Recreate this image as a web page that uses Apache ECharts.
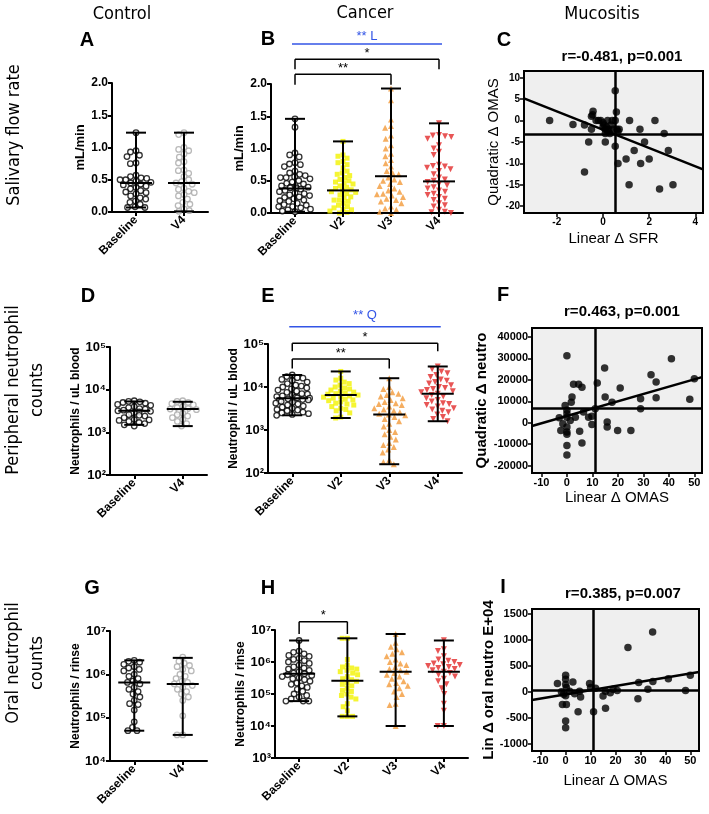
<!DOCTYPE html>
<html><head><meta charset="utf-8">
<script src="https://cdn.jsdelivr.net/npm/echarts@6/dist/echarts.min.js"></script>
<style>html,body{margin:0;padding:0;background:#fff}#c{width:709px;height:814px}</style>
</head><body><div id="c"></div>
<script>
// ---------------- DATA ----------------
const catsCtrl = ['Baseline', 'V4'];
const catsCancer = ['Baseline', 'V2', 'V3', 'V4'];

// A: salivary flow rate, control (mL/min)
const aBaseline = [1.23,0.95,0.93,0.88,0.86,0.76,0.75,0.57,0.55,0.53,0.52,0.5,0.5,0.48,0.46,0.45,0.43,0.42,0.4,0.38,0.36,0.33,0.31,0.3,0.28,0.25,0.22,0.2,0.17,0.15,0.12,0.08,0.07,0.07];
const aV4 = [1.23,1.2,1.0,0.97,0.95,0.9,0.85,0.78,0.76,0.65,0.64,0.6,0.55,0.5,0.47,0.45,0.43,0.37,0.35,0.32,0.3,0.27,0.25,0.2,0.15,0.12,0.1,0.05,0.02,0.01];
const aMedian = [0.45, 0.45], aLow = [0.07, 0.01], aHigh = [1.23, 1.23];

// B: salivary flow rate, cancer
const bBaseline = [1.46,1.33,0.93,0.9,0.87,0.78,0.76,0.75,0.72,0.65,0.62,0.6,0.58,0.56,0.55,0.55,0.53,0.5,0.48,0.46,0.45,0.42,0.41,0.4,0.4,0.39,0.38,0.37,0.35,0.33,0.31,0.3,0.28,0.27,0.25,0.24,0.22,0.2,0.19,0.18,0.15,0.13,0.12,0.1,0.1,0.08,0.06,0.05,0.03,0.02];
const bV2 = [1.11,0.9,0.88,0.85,0.8,0.78,0.75,0.7,0.65,0.62,0.6,0.58,0.55,0.52,0.5,0.48,0.47,0.45,0.42,0.4,0.38,0.36,0.35,0.33,0.32,0.3,0.28,0.25,0.23,0.2,0.2,0.18,0.15,0.12,0.1,0.08,0.06,0.05,0.03,0.01,0.0];
const bV3 = [1.93,1.75,1.45,1.35,1.32,1.2,1.15,1.05,1.0,0.92,0.88,0.82,0.77,0.72,0.65,0.62,0.6,0.55,0.52,0.5,0.48,0.45,0.42,0.38,0.35,0.33,0.3,0.29,0.27,0.25,0.22,0.2,0.18,0.15,0.1,0.07,0.05,0.02,0.0];
const bV4 = [1.39,1.21,1.2,1.19,1.18,1.15,1.05,1.0,0.95,0.9,0.75,0.73,0.72,0.7,0.68,0.65,0.6,0.55,0.52,0.5,0.48,0.45,0.43,0.4,0.38,0.35,0.33,0.3,0.28,0.25,0.22,0.2,0.15,0.12,0.1,0.05,0.02,0.01,0.0];
const bMedian = [0.38, 0.35, 0.57, 0.49], bLow = [0.02, 0.0, 0.0, 0.0], bHigh = [1.46, 1.11, 1.93, 1.39];

// C: Linear dSFR vs Quadratic dOMAS
const cPoints = [[-2.31,0],[-1.3,-0.9],[-0.8,-1],[-0.8,-12],[-0.62,-5],[-0.5,-2],[-0.43,2.2],[-0.45,1.4],[-0.5,1],[-0.3,0],[-0.1,0],[0,-0.5],[0.05,-1],[0.1,-2],[0.15,-1.5],[0.2,0],[0.25,-2],[0.3,-3],[0.35,-1],[0.4,0],[0.45,-2],[0.6,-2],[0.65,-2.5],[0.2,-2.5],[0,-1.5],[-0.2,0],[0.1,-3],[0.1,-5],[0.53,7],[0.58,2],[0.53,0],[0.53,-6],[0.7,-2],[0.65,-10],[1.0,-9],[1.15,0],[1.13,-15],[1.35,-7],[1.6,-2],[1.63,-10],[1.8,-5],[2.0,-9],[2.25,0],[2.65,-3],[2.45,-16],[2.83,-7],[3.03,-15]];
const cFit = [[-3.42,5.2],[4.33,-11.4]];
const cRef = {x: 0.54, y: -3.2};
const cXTicks = [-2,0,2,4], cYTicks = [-20,-15,-10,-5,0,5,10];

// D: peripheral neutrophils, control
const dBaseline = [5500,5300,5200,5000,4800,4500,4300,4000,3800,3600,3500,3300,3200,3100,3000,2900,2800,2600,2500,2400,2200,2000,1950,1900,1800,1700,1600,1500,1400];
const dV4 = [5500,5300,5000,4700,4400,4000,3800,3600,3500,3400,3300,3100,3000,2800,2600,2400,2200,2000,1800,1600,1400];
const dMedian = [3200, 3500], dLow = [1500, 1400], dHigh = [5300, 5200];

// E: peripheral neutrophils, cancer
const eBaseline = [19000,17500,16500,16000,15000,14000,13000,12000,11000,10500,10000,9500,9000,8500,8000,7500,7000,6800,6500,6200,6000,5800,5600,5500,5300,5100,5000,4800,4600,4400,4200,4000,3800,3600,3400,3200,3000,2900,2800,2600,2500,2400,2300,2200];
const eV2 = [23000,16000,14500,13000,12000,11000,10000,9500,9000,8500,8000,7600,7200,7000,6800,6500,6200,6000,5800,5500,5200,5000,4800,4500,4200,4000,3800,3500,3200,3000,2800,2500,2000,1900];
const eV3 = [16000,10000,9000,7500,7000,6500,6000,5500,5000,4500,4200,4000,3800,3500,3200,3000,2800,2600,2400,2300,2200,2000,1800,1600,1400,1200,1000,900,800,700,600,500,450,400,350,300,200,180,160];
const eV4 = [30000,26000,23000,21000,19000,17000,15000,14000,13000,12000,11000,10000,9500,9000,8500,8000,7500,7000,6500,6000,5500,5000,4600,4200,4000,3800,3500,3200,3000,2800,2600,2300,2000,1800,1600];
const eMedian = [5500, 6500, 2300, 7000], eLow = [2200, 1900, 160, 1600], eHigh = [19000, 23000, 16000, 30000];

// F: Linear dOMAS vs Quadratic dneutro
const fPoints = [[0,31300],[-3,2300],[-2.4,-3600],[-1.6,-500],[-0.7,8000],[0,5800],[0,4200],[0,2600],[0,-2000],[0,-4300],[0,-5400],[0,-10600],[0,-15000],[1.3,1000],[2,12000],[1.7,9600],[2.6,17900],[3.3,2600],[4.6,17900],[5.9,16600],[5,-4000],[5.9,-9500],[6.5,5000],[8.5,2600],[9.8,3000],[9.8,-800],[11.1,6500],[11.9,18500],[14.8,25500],[15,12000],[15.8,300],[15.8,-2000],[17.7,9600],[19.9,-3600],[20.9,16200],[25.1,-3600],[28.9,11200],[28.9,6500],[33,22400],[35,19000],[35,11700],[41,29900],[48.2,10900],[50,20500]];
const fFit = [[-13.7,-1500],[53,21300]];
const fRef = {x: 11.1, y: 6900};
const fXTicks = [-10,0,10,20,30,40,50], fYTicks = [-20000,-10000,0,10000,20000,30000,40000];

// G: oral neutrophils, control
const gBaseline = [2.1e6,2.0e6,1.9e6,1.7e6,1.5e6,1.4e6,1.3e6,1.2e6,1.0e6,9e5,8e5,7e5,6.5e5,6e5,5e5,4.5e5,4e5,3.5e5,3e5,2.5e5,2.1e5,2e5,1.5e5,8e4,6e4,5e4,5e4];
const gV4 = [2.5e6,2.0e6,1.8e6,1.6e6,1.5e6,1.3e6,1.2e6,1.0e6,9e5,8e5,7e5,6.5e5,6e5,5.5e5,5e5,4.5e5,4e5,3.5e5,3e5,2.5e5,1.1e5,4e4,4e4];
const gMedian = [6.5e5, 6e5], gLow = [5e4, 4e4], gHigh = [2.1e6, 2.4e6];

// H: oral neutrophils, cancer
const hBaseline = [4.7e6,2.2e6,2.0e6,1.8e6,1.6e6,1.5e6,1.3e6,1.2e6,1.1e6,1.0e6,9e5,8e5,7e5,6.5e5,6e5,5.5e5,5e5,4.5e5,4.3e5,4e5,3.8e5,3.5e5,3.2e5,3e5,2.8e5,2.5e5,2.2e5,2e5,1.8e5,1.6e5,1.4e5,1.2e5,1e5,9e4,8e4,7e4,6e4,6e4,6e4];
const hV2 = [5.5e6,5.5e6,1.2e6,8e5,7e5,6.5e5,6e5,5.5e5,5e5,4.5e5,4e5,3.5e5,3e5,2.8e5,2.5e5,2.2e5,2e5,1.8e5,1.5e5,1.3e5,1.2e5,1e5,9e4,8e4,7e4,5e4,4e4,3e4,2e4,2e4,2e4];
const hV3 = [7.5e6,4e6,3e6,2.5e6,2e6,1.8e6,1.5e6,1.2e6,1e6,9e5,8e5,7e5,6e5,5.5e5,5e5,4.5e5,4e5,3.5e5,3e5,2.5e5,2.2e5,2e5,1.8e5,1.5e5,1.2e5,1e5,8e4,5e4,4.5e4,1e4];
const hV4 = [4.8e6,2.5e6,2.2e6,1.5e6,1.2e6,1.1e6,1e6,9e5,8.5e5,8e5,7.5e5,7e5,6.5e5,6e5,5.5e5,5e5,4.5e5,4e5,3.5e5,3e5,2.5e5,2e5,1.5e5,1e5,5e4,3e4,1e4,1e4];
const hMedian = [4.3e5, 2.6e5, 5e5, 5e5], hLow = [6e4, 2e4, 1e4, 1e4], hHigh = [4.7e6, 5.5e6, 7.5e6, 4.7e6];

// I: Linear dOMAS vs Lin d oral neutro
const iPoints = [[-3.3,160],[-1.7,0],[-0.8,-50],[-1.3,-245],[0.3,-245],[0,315],[0,240],[0,140],[0.3,80],[0,-80],[0,-565],[0,-695],[1.6,10],[2.9,185],[3.6,-40],[5.6,10],[6,-100],[5,-385],[9.6,160],[10,80],[11.2,-385],[12,65],[15,-85],[16,10],[16,-320],[17.9,-20],[19,45],[20.7,25],[25,850],[29.3,175],[29,-135],[33,45],[34.9,1150],[35,195],[41.2,250],[48.1,25],[50,315]];
const iFit = [[-13.5,-160],[53.5,380]];
const iRef = {x: 11.2, y: 25};
const iXTicks = [-10,0,10,20,30,40,50], iYTicks = [-1000,-500,0,500,1000,1500];

// ---------------- STYLE / LAYOUT ----------------
const FONT = '"Liberation Sans", Arial, sans-serif';
const NARROW = '"Liberation Sans Narrow", "DejaVu Sans Condensed", Arial, sans-serif';
const grids = [
  {left:112, top:83,  width:96,  height:129},  // A
  {left:271, top:84,  width:192, height:129},  // B
  {left:524, top:71,  width:179, height:142},  // C
  {left:110, top:347, width:97,  height:128},  // D
  {left:268, top:344, width:194, height:129},  // E
  {left:532, top:328, width:170, height:145},  // F
  {left:110, top:631, width:97,  height:130},  // G
  {left:275, top:630, width:193, height:128},  // H
  {left:532, top:609, width:167, height:142}   // I
];
const SUP = {2:'²',3:'³',4:'⁴',5:'⁵',6:'⁶',7:'⁷'};
const xAxes = [], yAxes = [], series = [];
const axLine = {show:true, onZero:false, lineStyle:{color:'#000', width:2}};
const axTick = {show:true, length:4, lineStyle:{color:'#000', width:2}};

function catX(gi, cats, jit) {
  xAxes[gi] = {type:'category', gridIndex:gi, data:cats, boundaryGap:true,
    axisLine:axLine, axisTick:Object.assign({alignWithLabel:true}, axTick),
    axisLabel:{rotate:45, color:'#000', fontWeight:'bold', fontSize:12, fontFamily:FONT, margin:6},
    splitLine:{show:false}, jitter:jit, jitterOverlap:false, jitterMargin:0.2};
}
function linY(gi, min, max, interval, name, gap) {
  yAxes[gi] = {type:'value', gridIndex:gi, min, max, interval, axisLine:axLine, axisTick:axTick,
    splitLine:{show:false}, name, nameLocation:'middle', nameGap:gap,
    nameTextStyle:{color:'#000', fontWeight:'bold', fontSize:13, fontFamily:FONT},
    axisLabel:{color:'#000', fontWeight:'bold', fontSize:12, fontFamily:FONT, margin:4, formatter:v=>v.toFixed(1)}};
}
function logY(gi, min, max, name, gap) {
  yAxes[gi] = {type:'log', logBase:10, gridIndex:gi, min, max, axisLine:axLine, axisTick:axTick,
    minorTick:{show:false}, splitLine:{show:false}, name, nameLocation:'middle', nameGap:gap,
    nameTextStyle:{color:'#000', fontWeight:'bold', fontSize:12, fontFamily:FONT},
    axisLabel:{color:'#000', fontWeight:'bold', fontSize:13, fontFamily:FONT, margin:4,
      formatter:v=>'10' + SUP[Math.round(Math.log10(v))]}};
}
function valAxis(gi, dim, min, max, ticks, name, gap, nameBold, fs) {
  const ax = {type:'value', gridIndex:gi, min, max,
    axisLine:{show:false, onZero:false}, axisTick:{show:true, length:4, lineStyle:{color:'#000', width:1.5}, customValues:ticks},
    splitLine:{show:false}, name, nameLocation:'middle', nameGap:gap,
    nameTextStyle:{color:'#000', fontWeight:nameBold ? 'bold' : 'normal', fontSize:15, fontFamily:FONT},
    axisLabel:{color:'#000', fontWeight:'bold', fontSize:fs, fontFamily:FONT, margin:4, customValues:ticks,
      formatter:v=>String(v)}};
  if (dim === 'x') xAxes[gi] = ax; else yAxes[gi] = ax;
}

const ST = {
  openBlack:{symbol:'circle', size:5.5, item:{color:'#fff', borderColor:'#000', borderWidth:1.3}},
  openGrey:{symbol:'circle', size:5.5, item:{color:'#fff', borderColor:'#a8a8a8', borderWidth:1.3}},
  yellow:{symbol:'rect', size:5, item:{color:'#f3f300'}},
  orange:{symbol:'triangle', size:6, item:{color:'#f29a3a'}},
  red:{symbol:'triangle', size:6, rotate:180, item:{color:'#e22a2a'}}
};
function dots(ai, cat, values, st) {
  series.push({type:'scatter', xAxisIndex:ai, yAxisIndex:ai, silent:true, z:2,
    symbol:st.symbol, symbolSize:st.size, symbolRotate:st.rotate || 0, itemStyle:st.item,
    data:values.map(v => [cat, v])});
}
function errBars(ai, med, lo, hi) {
  series.push({type:'custom', xAxisIndex:ai, yAxisIndex:ai, silent:true, z:5, clip:false,
    data:med.map((m, i) => [i, lo[i], hi[i], m]),
    renderItem(params, api) {
      const x = api.value(0);
      const pl = api.coord([x, api.value(1)]), ph = api.coord([x, api.value(2)]), pm = api.coord([x, api.value(3)]);
      const s = {stroke:'#000', lineWidth:2};
      const cap = 10, mw = 16;
      return {type:'group', children:[
        {type:'line', shape:{x1:pl[0], y1:pl[1], x2:ph[0], y2:ph[1]}, style:s},
        {type:'line', shape:{x1:pl[0]-cap, y1:pl[1], x2:pl[0]+cap, y2:pl[1]}, style:s},
        {type:'line', shape:{x1:ph[0]-cap, y1:ph[1], x2:ph[0]+cap, y2:ph[1]}, style:s},
        {type:'line', shape:{x1:pm[0]-mw, y1:pm[1], x2:pm[0]+mw, y2:pm[1]}, style:s}
      ]};
    }});
}
// brackets: from/to category, line offset above grid top (px), drop length, label
function brackets(ai, yRef, list) {
  series.push({type:'custom', xAxisIndex:ai, yAxisIndex:ai, silent:true, z:10, clip:false,
    data:list.map(b => [b.from, b.to]),
    renderItem(params, api) {
      const b = list[params.dataIndex];
      const top = params.coordSys.y;
      const x1 = api.coord([api.value(0), yRef])[0] - (b.ext || 0);
      const x2 = api.coord([api.value(1), yRef])[0] + (b.ext || 0);
      const y = top - b.off;
      const s = {stroke:b.color || '#000', lineWidth:1.5};
      const ch = [{type:'line', shape:{x1, y1:y, x2, y2:y}, style:s}];
      if (b.drop) {
        ch.push({type:'line', shape:{x1, y1:y, x2:x1, y2:y+b.drop}, style:s});
        ch.push({type:'line', shape:{x1:x2, y1:y, x2, y2:y+b.drop}, style:s});
      }
      ch.push({type:'text', x:(x1+x2)/2, y:y - b.tdy, style:{text:b.text, fill:b.color || '#000',
        font:'13px ' + FONT, textAlign:'center', textVerticalAlign:'middle'}});
      return {type:'group', children:ch};
    }});
}
function scatterPanel(ai, pts, fit, ref) {
  series.push({type:'scatter', xAxisIndex:ai, yAxisIndex:ai, silent:true, z:3, symbolSize:7.5,
    itemStyle:{color:'#000'}, data:pts,
    markLine:{silent:true, symbol:'none', animation:false, label:{show:false},
      lineStyle:{color:'#000', width:2.5, type:'solid'}, data:[{xAxis:ref.x}, {yAxis:ref.y}]}});
  series.push({type:'line', xAxisIndex:ai, yAxisIndex:ai, silent:true, z:4, symbol:'none',
    lineStyle:{color:'#000', width:2.5}, data:fit});
}

// A
catX(0, catsCtrl, 34); linY(0, 0, 2, 0.5, 'mL/min', 24);
dots(0, 0, aBaseline, ST.openBlack); dots(0, 1, aV4, ST.openGrey); errBars(0, aMedian, aLow, aHigh);
// B
catX(1, catsCancer, 36); linY(1, 0, 2, 0.5, 'mL/min', 22);
dots(1, 0, bBaseline, ST.openBlack); dots(1, 1, bV2, ST.yellow); dots(1, 2, bV3, ST.orange); dots(1, 3, bV4, ST.red);
errBars(1, bMedian, bLow, bHigh);
brackets(1, 0, [
  {from:0, to:3, off:40, drop:0, ext:3, text:'** L', tdy:8, color:'#3355e6'},
  {from:0, to:3, off:24.7, drop:10, text:'*', tdy:6},
  {from:0, to:2, off:9.7, drop:10.5, text:'**', tdy:6}
]);
// C
valAxis(2, 'x', -3.42, 4.33, cXTicks, 'Linear Δ SFR', 18, false, 10);
valAxis(2, 'y', -21.6, 11.6, cYTicks, 'Quadratic Δ OMAS', 20, false, 10);
scatterPanel(2, cPoints, cFit, cRef);
// D
catX(3, catsCtrl, 34); logY(3, 100, 100000, 'Neutrophils / uL blood', 27);
dots(3, 0, dBaseline, ST.openBlack); dots(3, 1, dV4, ST.openGrey); errBars(3, dMedian, dLow, dHigh);
// E
catX(4, catsCancer, 36); logY(4, 100, 100000, 'Neutrophil / uL blood', 20);
dots(4, 0, eBaseline, ST.openBlack); dots(4, 1, eV2, ST.yellow); dots(4, 2, eV3, ST.orange); dots(4, 3, eV4, ST.red);
errBars(4, eMedian, eLow, eHigh);
brackets(4, 100, [
  {from:0, to:3, off:17.3, drop:0, ext:3, text:'** Q', tdy:11, color:'#3355e6'},
  {from:0, to:3, off:0.7, drop:8, text:'*', tdy:6},
  {from:0, to:2, off:-15, drop:9.5, text:'**', tdy:6}
]);
// F
valAxis(5, 'x', -13.7, 53, fXTicks, 'Linear Δ OMAS', 17, false, 11);
valAxis(5, 'y', -23450, 44200, fYTicks, 'Quadratic Δ neutro', 36, true, 11);
scatterPanel(5, fPoints, fFit, fRef);
// G
catX(6, catsCtrl, 34); logY(6, 10000, 10000000, 'Neutrophils / rinse', 26);
dots(6, 0, gBaseline, ST.openBlack); dots(6, 1, gV4, ST.openGrey); errBars(6, gMedian, gLow, gHigh);
// H
catX(7, catsCancer, 36); logY(7, 1000, 10000000, 'Neutrophils / rinse', 21);
dots(7, 0, hBaseline, ST.openBlack); dots(7, 1, hV2, ST.yellow); dots(7, 2, hV3, ST.orange); dots(7, 3, hV4, ST.red);
errBars(7, hMedian, hLow, hHigh);
brackets(7, 1000, [{from:0, to:1, off:8.3, drop:12.3, text:'*', tdy:6}]);
// I
valAxis(8, 'x', -13.5, 53.5, iXTicks, 'Linear Δ OMAS', 22, false, 11);
valAxis(8, 'y', -1140, 1590, iYTicks, 'Lin Δ oral neutro E+04', 29, true, 11);
scatterPanel(8, iPoints, iFit, iRef);

const gridOpts = grids.map((g, i) => Object.assign({containLabel:false}, g,
  [2, 5, 8].includes(i) ? {show:true, backgroundColor:'#efefef', borderColor:'#000', borderWidth:2} : {}));

function txt(x, y, text, font, rot) {
  return {type:'text', x, y, rotation:rot || 0, silent:true,
    style:{text, font, fill:'#000', textAlign:'center', textVerticalAlign:'middle', lineHeight:24}};
}
const graphic = [
  txt(122, 14, 'Control', '18px ' + NARROW),
  txt(365, 13, 'Cancer', '18px ' + NARROW),
  txt(602, 14, 'Mucositis', '18px ' + NARROW),
  txt(14, 135, 'Salivary flow rate', '18px ' + NARROW, Math.PI/2),
  txt(25, 390, 'Peripheral neutrophil\ncounts', '18px ' + NARROW, Math.PI/2),
  txt(25, 663, 'Oral neutrophil\ncounts', '18px ' + NARROW, Math.PI/2),
  txt(87, 40, 'A', 'bold 20px ' + FONT), txt(268, 39, 'B', 'bold 20px ' + FONT), txt(504, 40, 'C', 'bold 20px ' + FONT),
  txt(88, 296, 'D', 'bold 20px ' + FONT), txt(268, 296, 'E', 'bold 20px ' + FONT), txt(503, 295, 'F', 'bold 20px ' + FONT),
  txt(92, 588, 'G', 'bold 20px ' + FONT), txt(268, 588, 'H', 'bold 20px ' + FONT), txt(503, 587, 'I', 'bold 20px ' + FONT),
  txt(622, 57, 'r=-0.481, p=0.001', 'bold 15px ' + FONT),
  txt(622, 312, 'r=0.463, p=0.001', 'bold 15px ' + FONT),
  txt(623, 594, 'r=0.385, p=0.007', 'bold 15px ' + FONT)
];

const chart = echarts.init(document.getElementById('c'), null, {renderer:'canvas'});
chart.setOption({animation:false, backgroundColor:'#fff', grid:gridOpts, xAxis:xAxes, yAxis:yAxes, series, graphic});
</script></body></html>
